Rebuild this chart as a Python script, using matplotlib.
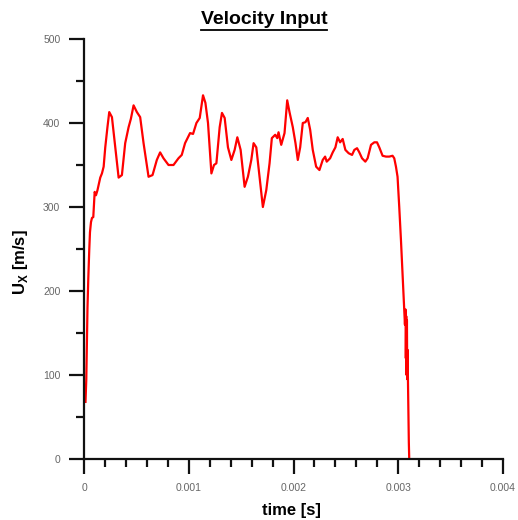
import matplotlib
matplotlib.use("Agg")
import matplotlib.pyplot as plt
from matplotlib.ticker import MultipleLocator, FuncFormatter
from matplotlib.lines import Line2D

# ---- data ----
time_ms = [0.0143, 0.0219, 0.0267, 0.0333, 0.0410, 0.0505, 0.0571, 0.0667, 0.0762, 0.0886,
           0.1019, 0.1143, 0.1286, 0.1552, 0.1714, 0.1876, 0.2029, 0.2238, 0.2410, 0.2667,
           0.2981, 0.3305, 0.3619, 0.3933, 0.4257, 0.4476, 0.4733, 0.5048, 0.5362, 0.5686,
           0.6162, 0.6543, 0.6952, 0.7267, 0.7590, 0.8067, 0.8543, 0.9019, 0.9333, 0.9648,
           1.0124, 1.0410, 1.0733, 1.1048, 1.1362, 1.1590, 1.1838, 1.2162, 1.2410, 1.2638,
           1.2952, 1.3171, 1.3429, 1.3743, 1.4067, 1.4381, 1.4638, 1.4952, 1.5333, 1.5648,
           1.5971, 1.6190, 1.6448, 1.6762, 1.7076, 1.7400, 1.7714, 1.7933, 1.8257, 1.8448,
           1.8571, 1.8829, 1.9143, 1.9400, 1.9619, 1.9933, 2.0190, 2.0410, 2.0638, 2.0886,
           2.1143, 2.1362, 2.1590, 2.1838, 2.2162, 2.2476, 2.2790, 2.3019, 2.3171, 2.3495,
           2.3743, 2.4000, 2.4219, 2.4448, 2.4695, 2.4952, 2.5267, 2.5590, 2.5810, 2.6067,
           2.6286, 2.6543, 2.6857, 2.7076, 2.7400, 2.7714, 2.7971, 2.8190, 2.8505, 2.8829,
           2.9143, 2.9457, 2.9619, 2.9781, 2.9933, 3.0095, 3.0257, 3.0410, 3.0571, 3.0638,
           3.0695, 3.0724, 3.0762, 3.0790, 3.0829, 3.0857, 3.0886, 3.0924, 3.0952, 3.1010,
           3.1048]
velocity = [68, 95, 130, 180, 215, 250, 270, 282, 287, 288,
            318, 314, 320, 335, 340, 348, 371, 395, 413, 407,
            371, 335, 338, 376, 395, 405, 421, 413, 407, 376,
            336, 338, 356, 365, 358, 350, 350, 358, 362, 376,
            388, 387, 400, 406, 433, 424, 400, 340, 350, 352,
            395, 412, 406, 371, 356, 368, 383, 368, 324, 336,
            356, 376, 371, 336, 300, 320, 352, 382, 386, 382,
            389, 374, 388, 427, 413, 395, 376, 356, 371, 400,
            401, 406, 392, 368, 348, 344, 356, 360, 354, 358,
            365, 371, 383, 377, 381, 368, 364, 362, 368, 370,
            365, 358, 354, 358, 374, 377, 377, 371, 361, 360,
            360, 361, 358, 348, 336, 300, 261, 221, 181, 160,
            178, 120, 170, 100, 165, 95, 130, 94, 62, 20,
            0]
time_s = [t * 1e-3 for t in time_ms]

title_text = "Velocity Input"
xlabel_text = "time [s]"
ylabel_text = r"U$_\mathregular{X}$ [m/s]"

# ---- figure ----
W, H = 518, 520
fig = plt.figure(figsize=(W / 100, H / 100), dpi=100)
ax = fig.add_axes([84 / W, 1 - 459 / H, (503 - 84) / W, (459 - 39) / H])

ax.plot(time_s, velocity, color="#ff0000", lw=1.6, solid_joinstyle="round")

ax.set_xlim(0, 0.004)
ax.set_ylim(0, 500)
for s in ("top", "right"):
    ax.spines[s].set_visible(False)
for s in ("left", "bottom"):
    ax.spines[s].set_linewidth(1.6)
    ax.spines[s].set_color("#111111")

ax.xaxis.set_major_locator(MultipleLocator(0.001))
ax.xaxis.set_minor_locator(MultipleLocator(0.0002))
ax.yaxis.set_major_locator(MultipleLocator(100))
ax.yaxis.set_minor_locator(MultipleLocator(50))
ax.xaxis.set_major_formatter(FuncFormatter(lambda v, p: "%g" % round(v, 6)))
ax.yaxis.set_major_formatter(FuncFormatter(lambda v, p: "%d" % v))

ax.tick_params(which="major", direction="out", length=11, width=1.6, color="#111111",
               labelsize=7.5, labelcolor="#666666", pad=6)
ax.tick_params(which="minor", direction="out", length=6, width=1.6, color="#111111")
for lab in ax.get_xticklabels() + ax.get_yticklabels():
    lab.set_fontfamily("Liberation Sans")

# Title (bold, underlined)
t = fig.text(264 / W, 1 - 20 / H, title_text, ha="center", va="center",
             fontsize=14, fontweight="bold", family="Liberation Sans")
fig.canvas.draw()
bb = t.get_window_extent(fig.canvas.get_renderer()).transformed(fig.transFigure.inverted())
uy = bb.y0 - 1.5 / H
fig.add_artist(Line2D([bb.x0, bb.x1], [uy, uy], transform=fig.transFigure,
                      color="black", lw=1.3))

fig.text(291 / W, 1 - 511 / H, xlabel_text, ha="center", va="center",
         fontsize=12, fontweight="bold", family="Liberation Sans")
fig.text(20 / W, 1 - 262 / H, ylabel_text, ha="center", va="center", rotation=90,
         fontsize=12, fontweight="bold", family="Liberation Sans")

fig.savefig("out.png", dpi=100)
